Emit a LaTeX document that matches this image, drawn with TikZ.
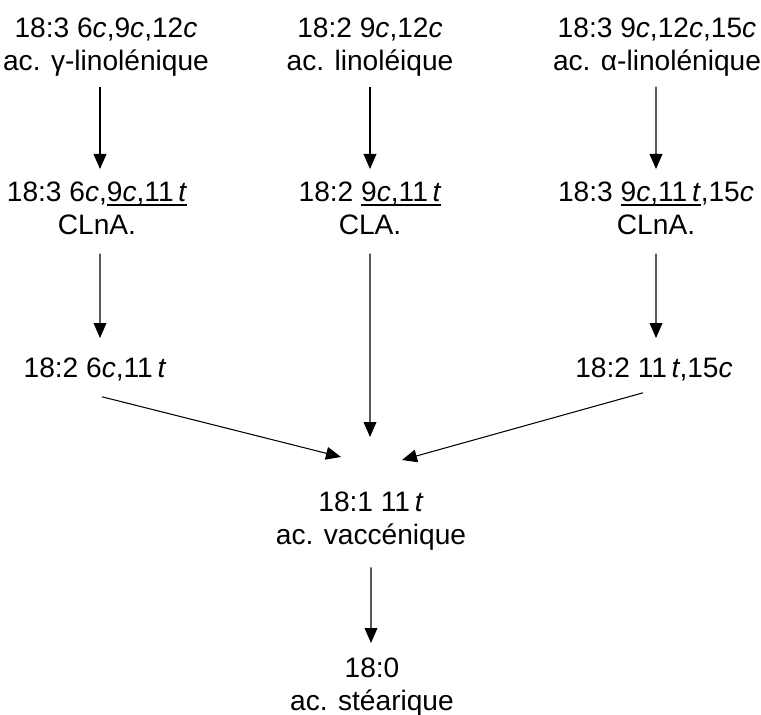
\documentclass[tikz,border=0pt]{standalone}
\usepackage{fontspec}
\setmainfont{Liberation Sans}
\usetikzlibrary{arrows.meta}
\newcommand\ulfa[1]{\setbox0\hbox{#1}\rlap{\rule[-0.14em]{\wd0}{0.055em}}\box0}
\begin{document}
\begin{tikzpicture}[
  lbl/.style={align=center, inner sep=0pt, anchor=north, font=\fontsize{20pt}{23.5pt}\selectfont},
  arr/.style={line width=0.75pt, -{Triangle[length=0.375cm, width=0.32cm]}}]
\useasboundingbox (0,0) rectangle (19.025,-17.875);
\node[lbl] (gla) at (2.65,-0.45) {18:3 6\textit{c},9\textit{c},12\textit{c}\\ac. γ-linolénique};
\node[lbl] (la) at (9.25,-0.45) {18:2 9\textit{c},12\textit{c}\\ac. linoléique};
\node[lbl] (ala) at (16.425,-0.45) {18:3 9\textit{c},12\textit{c},15\textit{c}\\ac. α-linolénique};
\node[lbl] (cg) at (2.425,-4.55) {18:3 6\textit{c},\ulfa{9\textit{c},11\,\textit{t}}\\CLnA.};
\node[lbl] (cla) at (9.25,-4.55) {18:2 \ulfa{9\textit{c},11\,\textit{t}}\\CLA.};
\node[lbl] (ca) at (16.4,-4.55) {18:3 \ulfa{9\textit{c},11\,\textit{t}},15\textit{c}\\CLnA.};
\node[lbl] (t6) at (2.375,-8.95) {18:2 6\textit{c},11\,\textit{t}};
\node[lbl] (t15) at (16.35,-8.95) {18:2 11\,\textit{t},15\textit{c}};
\node[lbl] (vac) at (9.275,-12.3) {18:1 11\,\textit{t}\\ac. vaccénique};
\node[lbl] (ste) at (9.3,-16.45) {18:0\\ac. stéarique};

\draw[arr] ([xshift=-0.15cm,yshift=-0.24cm]gla.south) -- ([xshift=0.075cm,yshift=0.325cm]cg.north);
\draw[arr] ([yshift=-0.24cm]la.south) -- ([yshift=0.325cm]cla.north);
\draw[arr] ([xshift=-0.025cm,yshift=-0.24cm]ala.south) -- ([yshift=0.325cm]ca.north);
\draw[arr] ([xshift=0.075cm,yshift=-0.45cm]cg.south) -- ([xshift=0.125cm,yshift=0.5cm]t6.north);
\draw[arr] ([yshift=-0.45cm]ca.south) -- ([xshift=0.05cm,yshift=0.5cm]t15.north);
\draw[arr] ([yshift=-0.45cm]cla.south) -- ([xshift=-0.025cm,yshift=1.375cm]vac.north);
\draw[arr] ([xshift=0.175cm,yshift=-0.375cm]t6.south) -- ([xshift=-0.75cm,yshift=0.875cm]vac.north);
\draw[arr] ([xshift=-0.275cm,yshift=-0.275cm]t15.south) -- ([xshift=0.775cm,yshift=0.8cm]vac.north);
\draw[arr] ([yshift=-0.41cm]vac.south) -- ([xshift=-0.025cm,yshift=0.375cm]ste.north);
\end{tikzpicture}
\end{document}
